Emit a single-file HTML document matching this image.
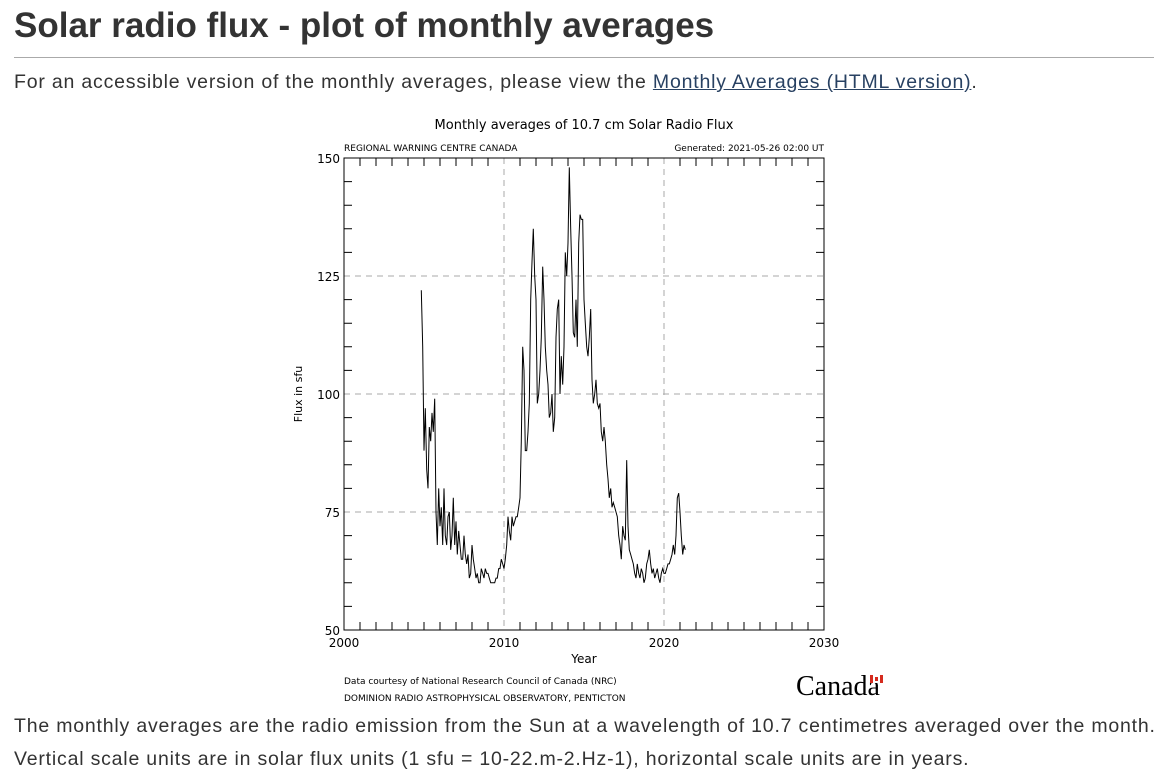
<!DOCTYPE html>
<html><head><meta charset="utf-8">
<style>
body{margin:0;background:#fff;width:1160px;height:783px;overflow:hidden;font-family:"Liberation Sans","DejaVu Sans",sans-serif;color:#333;}
h1{position:absolute;left:14px;top:6px;margin:0;font-size:35px;font-weight:bold;color:#333;letter-spacing:0}
.rule{position:absolute;left:14px;top:57px;width:1140px;height:1px;background:#aaa}
p{position:absolute;left:14px;margin:0;font-size:19.5px;color:#333;white-space:nowrap;letter-spacing:0.8px}
a{color:#284162;text-decoration:underline}
svg{position:absolute;left:0;top:0}
svg text{font-family:"DejaVu Sans","Liberation Sans",sans-serif;fill:#000}
</style></head><body>
<h1>Solar radio flux - plot of monthly averages</h1>
<div class="rule"></div>
<p style="top:71px">For an accessible version of the monthly averages, please view the <a>Monthly Averages (HTML version)</a>.</p>
<svg id="chart" width="1160" height="783">
<text x="584" y="129" font-size="13" text-anchor="middle">Monthly averages of 10.7 cm Solar Radio Flux</text>
<text x="344" y="151" font-size="9">REGIONAL WARNING CENTRE CANADA</text>
<text x="824" y="151" font-size="9" text-anchor="end">Generated: 2021-05-26 02:00 UT</text>
<text x="584" y="663" font-size="12" text-anchor="middle">Year</text>
<text transform="translate(302,394) rotate(-90)" font-size="11" text-anchor="middle">Flux in sfu</text>
<text x="344" y="684" font-size="9">Data courtesy of National Research Council of Canada (NRC)</text>
<text x="344" y="701" font-size="9">DOMINION RADIO ASTROPHYSICAL OBSERVATORY, PENTICTON</text>
<text x="796" y="695" font-size="28" style="font-family:'Liberation Serif',serif">Canada</text>
<g>
<rect x="870" y="675" width="13" height="8" fill="#d52b1e"/>
<rect x="873" y="675" width="7" height="8" fill="#fff"/>
<rect x="875" y="677" width="3" height="4" fill="#d52b1e"/>
</g>
<g id="g"></g>
</svg>
<p style="top:715px">The monthly averages are the radio emission from the Sun at a wavelength of 10.7 centimetres averaged over the month.</p>
<p style="top:748px">Vertical scale units are in solar flux units (1 sfu = 10-22.m-2.Hz-1), horizontal scale units are in years.</p>
<script>
const startYear = 2004.833;
const flux = [122,110,
88,97,84,80,93,90,96,92,99,75,68,80,
72,76,68,80,70,68,74,75,67,70,78,68,
73,66,71,68,65,65,70,66,64,66,61,62,
68,65,63,61,62,60,60,63,62,61,63,62,
62,61,60,60,60,60,61,61,63,63,65,64,
63,65,68,74,71,69,74,72,73,74,74,76,
78,90,110,105,88,88,92,98,120,128,135,125,
120,98,100,105,112,127,120,110,105,102,95,96,
100,92,95,112,118,120,100,108,102,110,130,125,
132,148,135,125,113,112,120,110,132,138,137,137,
120,115,110,108,112,118,103,98,100,103,98,97,
98,92,90,93,90,85,82,78,80,76,77,76,
75,74,70,68,65,72,70,69,86,72,67,66,
65,64,62,61,64,62,61,63,62,60,61,64,
65,67,64,62,63,61,62,63,61,60,62,63,
62,62,63,64,64,65,66,68,66,70,78,79,
75,70,66,68,67];
const xTicks = [2000,2010,2020,2030];
const yTicks = [50,75,100,125,150];
const X0=344,X1=824,Y0=630,Y1=158;
const xs = v => X0+(v-2000)/30*(X1-X0);
const ys = v => Y0-(v-50)/100*(Y0-Y1);
const g=document.getElementById('g');
const NS='http://www.w3.org/2000/svg';
function el(t,a){const e=document.createElementNS(NS,t);for(const k in a)e.setAttribute(k,a[k]);g.appendChild(e);return e;}
xTicks.slice(1,-1).forEach(t=>{const l=el('line',{x1:xs(t),x2:xs(t),y1:Y1,y2:Y0,stroke:'#aaa','stroke-dasharray':'6,5'});

});
yTicks.slice(1,-1).forEach(t=>{const l=el('line',{x1:X0,x2:X1,y1:ys(t),y2:ys(t),stroke:'#aaa','stroke-dasharray':'6,5'});

});
let d='';
for(let y=2000;y<=2030;y++){const x=xs(y);const L=(y%10==0)?0:8;if(L){d+=`M${x},${Y0}v-${L}M${x},${Y1}v${L}`;}}
for(let v=50;v<=150;v+=5){if(v%25==0)continue;const y=ys(v);d+=`M${X0},${y}h8M${X1},${y}h-8`;}
const tk=el('path',{d:d,stroke:'#000','stroke-width':1,fill:'none'});


const fr=el('rect',{x:X0,y:Y1,width:X1-X0,height:Y0-Y1,fill:'none',stroke:'#000'});


xTicks.forEach(t=>{const e=el('text',{x:xs(t),y:Y0+17,'font-size':12,'text-anchor':'middle'});e.textContent=t;

});
yTicks.forEach(t=>{const e=el('text',{x:X0-4,y:ys(t)+5,'font-size':12,'text-anchor':'end'});e.textContent=t;

});
let p='';
flux.forEach((v,i)=>{const x=xs(startYear+i/12),y=ys(v);p+=(i?'L':'M')+x.toFixed(1)+','+y.toFixed(1);});
const s=el('path',{d:p,fill:'none',stroke:'#000','stroke-width':1});


</script>
</body></html>
